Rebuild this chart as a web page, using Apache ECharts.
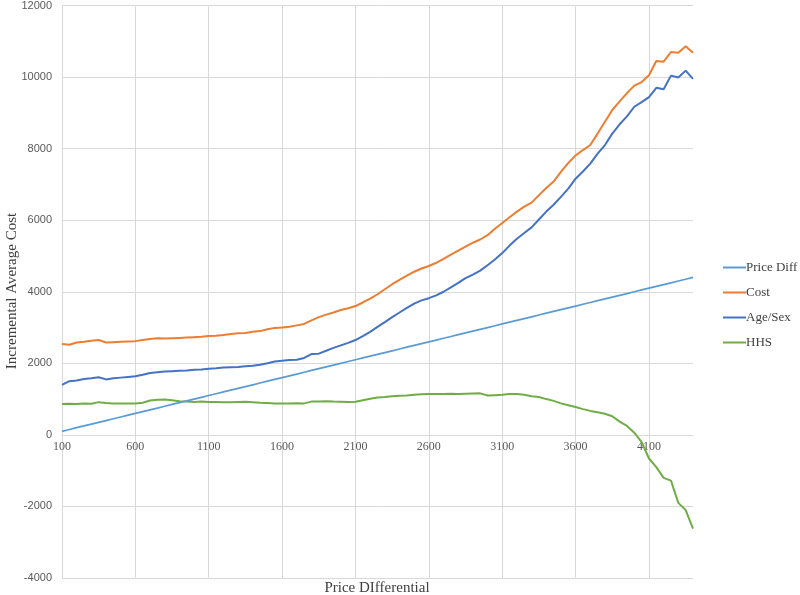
<!DOCTYPE html>
<html>
<head>
<meta charset="utf-8">
<script src="https://cdn.jsdelivr.net/npm/echarts@6/dist/echarts.min.js"></script>
<style>html,body{margin:0;padding:0;background:#fff;}#c{width:800px;height:595px;}</style>
</head>
<body>
<div id="c"></div>
<script>
const categories = [100,150,200,250,300,350,400,450,500,550,600,650,700,750,800,850,900,950,1000,1050,1100,1150,1200,1250,1300,1350,1400,1450,1500,1550,1600,1650,1700,1750,1800,1850,1900,1950,2000,2050,2100,2150,2200,2250,2300,2350,2400,2450,2500,2550,2600,2650,2700,2750,2800,2850,2900,2950,3000,3050,3100,3150,3200,3250,3300,3350,3400,3450,3500,3550,3600,3650,3700,3750,3800,3850,3900,3950,4000,4050,4100,4150,4200,4250,4300,4350,4400];

const priceDiff = [100,150,200,250,300,350,400,450,500,550,600,650,700,750,800,850,900,950,1000,1050,1100,1150,1200,1250,1300,1350,1400,1450,1500,1550,1600,1650,1700,1750,1800,1850,1900,1950,2000,2050,2100,2150,2200,2250,2300,2350,2400,2450,2500,2550,2600,2650,2700,2750,2800,2850,2900,2950,3000,3050,3100,3150,3200,3250,3300,3350,3400,3450,3500,3550,3600,3650,3700,3750,3800,3850,3900,3950,4000,4050,4100,4150,4200,4250,4300,4350,4400];

const cost = [2540,2520,2580,2600,2630,2650,2580,2590,2600,2610,2620,2650,2680,2700,2690,2700,2710,2720,2730,2740,2760,2770,2790,2820,2840,2850,2880,2900,2950,2990,3000,3020,3060,3100,3200,3290,3360,3420,3490,3540,3600,3700,3810,3930,4070,4210,4330,4450,4560,4650,4720,4810,4920,5040,5150,5260,5370,5460,5580,5760,5920,6080,6240,6380,6490,6700,6900,7080,7350,7600,7810,7960,8100,8420,8750,9080,9320,9550,9760,9860,10050,10450,10430,10700,10680,10860,10680];

const ageSex = [1400,1500,1520,1560,1580,1610,1550,1580,1600,1620,1640,1680,1730,1750,1770,1780,1790,1800,1820,1830,1845,1860,1880,1890,1900,1920,1930,1960,2000,2050,2070,2090,2100,2150,2260,2270,2350,2430,2500,2570,2650,2760,2880,3020,3150,3290,3420,3550,3670,3760,3820,3900,4000,4120,4250,4380,4480,4590,4740,4900,5080,5290,5480,5640,5800,6020,6240,6430,6650,6880,7160,7360,7580,7860,8100,8420,8680,8900,9170,9300,9440,9700,9660,10040,9990,10180,9950];

const hhs = [860,870,860,880,870,915,890,880,880,880,880,900,960,980,990,970,940,930,920,930,920,920,910,915,920,925,915,900,890,880,880,880,885,880,930,935,940,930,925,920,925,970,1010,1045,1060,1080,1090,1100,1120,1135,1140,1140,1145,1150,1140,1150,1155,1160,1100,1110,1120,1140,1140,1120,1080,1060,1000,950,880,830,780,720,670,630,590,520,370,250,60,-200,-660,-900,-1200,-1280,-1900,-2100,-2620];

const seriesNames = ['Price Diff','Cost','Age/Sex','HHS'];
const yTicks = {min: -4000, max: 12000, interval: 2000};

const colors = ['#5B9BD5','#ED7D31','#4472C4','#70AD47'];
const dataSets = [priceDiff, cost, ageSex, hhs];

const W = 800, H = 595;
const gridTop = 5, gridBottom = 17;
const plotH = H - gridTop - gridBottom;
// distance from bottom of plot to the zero line, derived from the y scale
const zeroOffset = plotH * (0 - yTicks.min) / (yTicks.max - yTicks.min);

const chart = echarts.init(document.getElementById('c'), null, {renderer: 'canvas'});
chart.setOption({
  animation: false,
  backgroundColor: '#ffffff',
  color: colors,
  grid: {left: 62, right: 107, top: gridTop, bottom: gridBottom, containLabel: false},
  legend: {
    orient: 'vertical',
    left: 723,
    top: 261,
    padding: 0,
    icon: 'rect',
    itemWidth: 23,
    itemHeight: 2,
    itemGap: 12,
    textStyle: {fontFamily: 'Liberation Serif', fontSize: 13, color: '#404040', padding: [0,0,0,-5]},
    data: seriesNames
  },
  xAxis: {
    type: 'category',
    data: categories,
    boundaryGap: false,
    offset: -zeroOffset,
    axisLine: {onZero: false, lineStyle: {color: '#d9d9d9', width: 1}},
    axisTick: {show: false},
    axisLabel: {interval: 9, margin: 6, fontFamily: 'Liberation Serif', fontSize: 12, color: '#595959'},
    splitLine: {show: true, interval: 9, lineStyle: {color: '#d9d9d9', width: 1}}
  },
  yAxis: {
    type: 'value',
    min: yTicks.min, max: yTicks.max, interval: yTicks.interval,
    axisLine: {show: false},
    axisTick: {show: false},
    axisLabel: {margin: 10, fontFamily: 'Liberation Sans', fontSize: 11, color: '#595959', formatter: v => String(v)},
    splitLine: {show: true, lineStyle: {color: '#d9d9d9', width: 1}}
  },
  graphic: [
    {type: 'text', x: 377, y: 588, style: {text: 'Price DIfferential', font: '15px "Liberation Serif"', fill: '#404040', textAlign: 'center', textVerticalAlign: 'middle'}},
    {type: 'text', x: 12, y: 291, rotation: Math.PI/2, style: {text: 'Incremental Average Cost', font: '15px "Liberation Serif"', fill: '#404040', textAlign: 'center', textVerticalAlign: 'middle'}}
  ],
  series: seriesNames.map((n, i) => ({
    name: n,
    type: 'line',
    data: dataSets[i],
    showSymbol: false,
    symbol: 'none',
    lineStyle: {width: i === 0 ? 1.75 : 2, color: colors[i]},
    itemStyle: {color: colors[i]},
    z: i === 0 ? 5 : 3
  }))
});
</script>
</body>
</html>
